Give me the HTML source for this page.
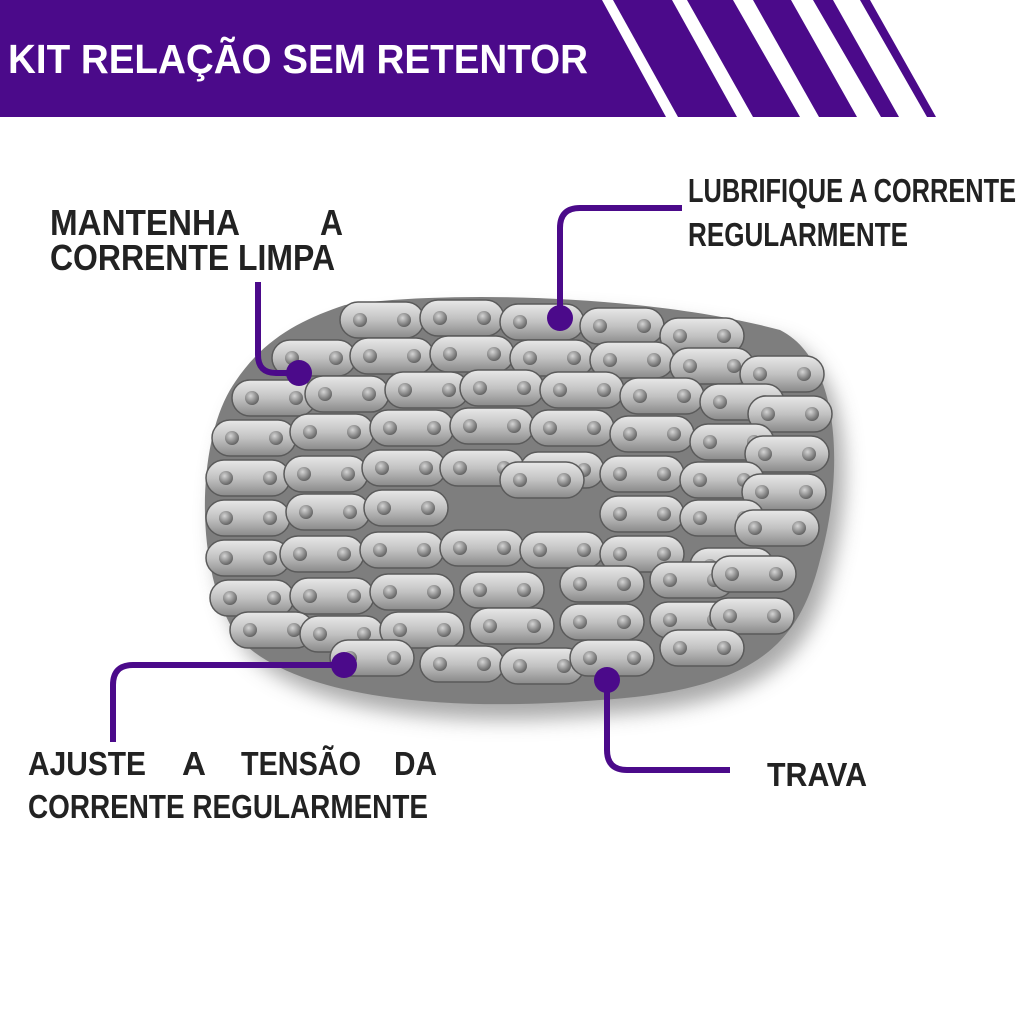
<!DOCTYPE html>
<html><head><meta charset="utf-8"><style>
html,body{margin:0;padding:0;background:#fff;width:1024px;height:1024px;overflow:hidden}
svg{display:block}
text{font-family:"Liberation Sans",sans-serif;font-weight:bold}
</style></head><body>
<svg width="1024" height="1024" viewBox="0 0 1024 1024">
<defs>
<linearGradient id="lg" x1="0" y1="0" x2="0" y2="1">
<stop offset="0" stop-color="#e8e8e8"/><stop offset="0.5" stop-color="#c2c2c2"/><stop offset="1" stop-color="#8a8a8a"/>
</linearGradient>
<radialGradient id="pg" cx="0.4" cy="0.35" r="0.7">
<stop offset="0" stop-color="#d5d5d5"/><stop offset="1" stop-color="#5a5a5a"/>
</radialGradient>
<g id="lk"><rect x="0" y="0" width="84" height="36" rx="18" fill="url(#lg)" stroke="#5a5a5a" stroke-width="1.5"/>
<circle cx="20" cy="18" r="7" fill="url(#pg)"/><circle cx="64" cy="18" r="7" fill="url(#pg)"/></g>
<filter id="sh" x="-20%" y="-20%" width="140%" height="140%"><feGaussianBlur stdDeviation="10"/></filter>
</defs>
<polygon points="0,0 602,0 666,117 0,117" fill="#4b0a8a"/>
<polygon points="613,0 672,0 737,117 678,117" fill="#4b0a8a"/>
<polygon points="687,0 733,0 800,117 753,117" fill="#4b0a8a"/>
<polygon points="753,0 791,0 857,117 819,117" fill="#4b0a8a"/>
<polygon points="813,0 833,0 899,117 881,117" fill="#4b0a8a"/>
<polygon points="860,0 870,0 936,117 927,117" fill="#4b0a8a"/>
<text x="8" y="73" font-size="41" fill="#fff" textLength="580" lengthAdjust="spacingAndGlyphs">KIT RELAÇÃO SEM RETENTOR</text>

<path d="M345,310 C450,290 650,295 780,330 C840,360 845,470 820,560 C800,640 760,690 600,700 C450,715 300,700 240,640 C195,580 195,450 230,390 C260,340 300,320 345,310 Z" fill="#555" filter="url(#sh)" opacity="0.5" transform="translate(10,14)"/>
<path d="M345,305 C450,290 650,295 780,330 C840,360 845,470 820,560 C800,640 760,690 600,700 C450,712 300,700 240,640 C195,580 195,450 230,390 C260,340 300,320 345,305 Z" fill="#7e7e7e"/>
<g>
<use href="#lk" x="340" y="302"/><use href="#lk" x="420" y="300"/><use href="#lk" x="500" y="304"/><use href="#lk" x="580" y="308"/><use href="#lk" x="660" y="318"/>
<use href="#lk" x="272" y="340"/><use href="#lk" x="350" y="338"/><use href="#lk" x="430" y="336"/><use href="#lk" x="510" y="340"/><use href="#lk" x="590" y="342"/><use href="#lk" x="670" y="348"/><use href="#lk" x="740" y="356"/>
<use href="#lk" x="232" y="380"/><use href="#lk" x="305" y="376"/><use href="#lk" x="385" y="372"/><use href="#lk" x="460" y="370"/><use href="#lk" x="540" y="372"/><use href="#lk" x="620" y="378"/><use href="#lk" x="700" y="384"/><use href="#lk" x="748" y="396"/>
<use href="#lk" x="212" y="420"/><use href="#lk" x="290" y="414"/><use href="#lk" x="370" y="410"/><use href="#lk" x="450" y="408"/><use href="#lk" x="530" y="410"/><use href="#lk" x="610" y="416"/><use href="#lk" x="690" y="424"/><use href="#lk" x="745" y="436"/>
<use href="#lk" x="206" y="460"/><use href="#lk" x="284" y="456"/><use href="#lk" x="362" y="450"/><use href="#lk" x="440" y="450"/><use href="#lk" x="520" y="452"/><use href="#lk" x="600" y="456"/><use href="#lk" x="680" y="462"/><use href="#lk" x="742" y="474"/>
<use href="#lk" x="206" y="500"/><use href="#lk" x="286" y="494"/><use href="#lk" x="364" y="490"/><use href="#lk" x="500" y="462"/><use href="#lk" x="600" y="496"/><use href="#lk" x="680" y="500"/><use href="#lk" x="735" y="510"/>
<use href="#lk" x="206" y="540"/><use href="#lk" x="280" y="536"/><use href="#lk" x="360" y="532"/><use href="#lk" x="440" y="530"/><use href="#lk" x="520" y="532"/><use href="#lk" x="600" y="536"/><use href="#lk" x="690" y="548"/>
<use href="#lk" x="210" y="580"/><use href="#lk" x="290" y="578"/><use href="#lk" x="370" y="574"/><use href="#lk" x="460" y="572"/><use href="#lk" x="560" y="566"/><use href="#lk" x="650" y="562"/><use href="#lk" x="712" y="556"/>
<use href="#lk" x="230" y="612"/><use href="#lk" x="300" y="616"/><use href="#lk" x="380" y="612"/><use href="#lk" x="470" y="608"/><use href="#lk" x="560" y="604"/><use href="#lk" x="650" y="602"/><use href="#lk" x="710" y="598"/>
<use href="#lk" x="330" y="640"/><use href="#lk" x="420" y="646"/><use href="#lk" x="500" y="648"/><use href="#lk" x="570" y="640"/><use href="#lk" x="660" y="630"/>
</g>

<g fill="none" stroke="#4b0a8a" stroke-width="6">
<path d="M258,282 V355 Q258,373 276,373 H298"/>
<path d="M560,318 V228 Q560,208 580,208 H682"/>
<path d="M344,665 H133 Q113,665 113,685 V742"/>
<path d="M607,680 V750 Q607,770 627,770 H730"/>
</g>
<g fill="#4b0a8a">
<circle cx="299" cy="373" r="13"/><circle cx="560" cy="318" r="13"/><circle cx="344" cy="665" r="13"/><circle cx="607" cy="680" r="13"/>
</g>

<g fill="#222" font-size="36">
<text x="50" y="235" textLength="190" lengthAdjust="spacingAndGlyphs">MANTENHA</text>
<text x="320" y="235" textLength="23" lengthAdjust="spacingAndGlyphs">A</text>
<text x="50" y="270" textLength="285" lengthAdjust="spacingAndGlyphs">CORRENTE LIMPA</text>
<text x="688" y="202" font-size="33" textLength="328" lengthAdjust="spacingAndGlyphs">LUBRIFIQUE A CORRENTE</text>
<text x="688" y="246" font-size="33" textLength="220" lengthAdjust="spacingAndGlyphs">REGULARMENTE</text>
<text x="28" y="775" font-size="33" textLength="118" lengthAdjust="spacingAndGlyphs">AJUSTE</text>
<text x="182" y="775" font-size="33" textLength="24" lengthAdjust="spacingAndGlyphs">A</text>
<text x="241" y="775" font-size="33" textLength="120" lengthAdjust="spacingAndGlyphs">TENSÃO</text>
<text x="394" y="775" font-size="33" textLength="43" lengthAdjust="spacingAndGlyphs">DA</text>
<text x="28" y="818" font-size="33" textLength="400" lengthAdjust="spacingAndGlyphs">CORRENTE REGULARMENTE</text>
<text x="767" y="786" font-size="33" textLength="100" lengthAdjust="spacingAndGlyphs">TRAVA</text>
</g>
</svg>
</body></html>
